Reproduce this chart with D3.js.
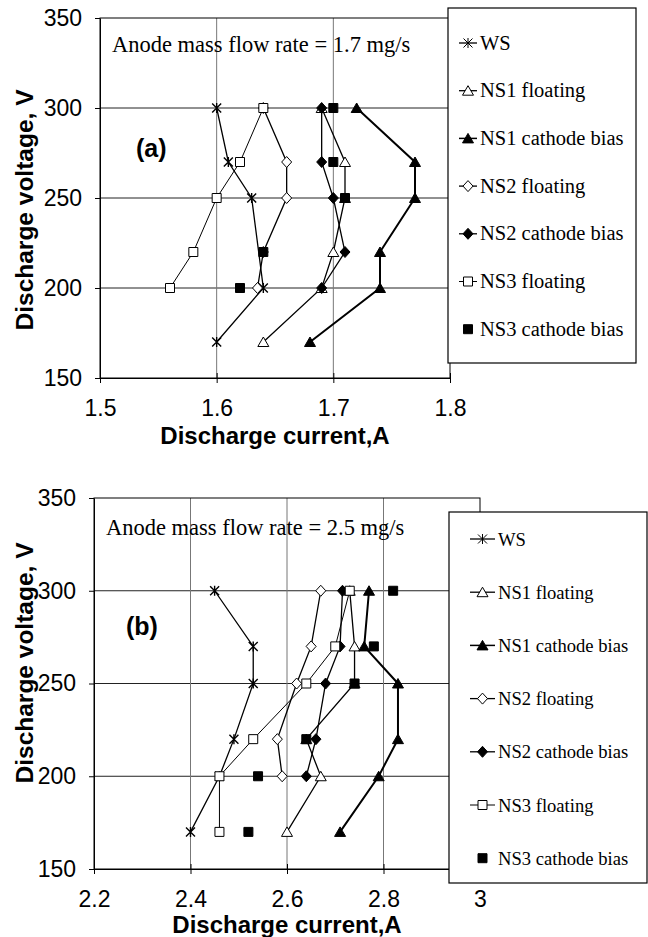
<!DOCTYPE html>
<html>
<head>
<meta charset="utf-8">
<script src="https://cdn.jsdelivr.net/npm/d3@7"></script>
<style>
  body { margin: 0; background: #fff; }
  svg { display: block; }
</style>
</head>
<body>
<div id="chart"></div>
<script>

// series names, same order in both panels
var seriesNames = ['WS', 'NS1 floating', 'NS1 cathode bias', 'NS2 floating',
                   'NS2 cathode bias', 'NS3 floating', 'NS3 cathode bias'];

// panel (a): anode mass flow rate 1.7 mg/s -- [current A, voltage V]
var aWS    = [[1.60, 300], [1.61, 270], [1.63, 250], [1.64, 200], [1.60, 170]];
var aNS1f  = [[1.69, 300], [1.71, 270], [1.71, 250], [1.70, 220], [1.69, 200], [1.64, 170]];
var aNS1c  = [[1.72, 300], [1.77, 270], [1.77, 250], [1.74, 220], [1.74, 200], [1.68, 170]];
var aNS2f  = [[1.64, 300], [1.66, 270], [1.66, 250], [1.64, 220], [1.635, 200]];
var aNS2c  = [[1.69, 300], [1.69, 270], [1.70, 250], [1.71, 220], [1.69, 200]];
var aNS3f  = [[1.64, 300], [1.62, 270], [1.60, 250], [1.58, 220], [1.56, 200]];
var aNS3c  = [[1.70, 300], [1.70, 270], [1.71, 250], [1.64, 220], [1.62, 200]];

// panel (b): anode mass flow rate 2.5 mg/s
var bWS    = [[2.45, 300], [2.53, 270], [2.53, 250], [2.49, 220], [2.46, 200], [2.40, 170]];
var bNS1f  = [[2.73, 300], [2.74, 270], [2.74, 250], [2.64, 220], [2.67, 200], [2.60, 170]];
var bNS1c  = [[2.77, 300], [2.76, 270], [2.83, 250], [2.83, 220], [2.79, 200], [2.71, 170]];
var bNS2f  = [[2.67, 300], [2.65, 270], [2.62, 250], [2.58, 220], [2.59, 200]];
var bNS2c  = [[2.715, 300], [2.71, 270], [2.68, 250], [2.66, 220], [2.64, 200]];
var bNS3f  = [[2.73, 300], [2.70, 270], [2.64, 250], [2.53, 220], [2.46, 200], [2.46, 170]];
var bNS3c  = [[2.82, 300], [2.78, 270], [2.74, 250], [2.64, 220], [2.54, 200], [2.52, 170]];

var yTicks  = [150, 200, 250, 300, 350];
var xTicksA = [1.5, 1.6, 1.7, 1.8];
var xTicksB = [2.2, 2.4, 2.6, 2.8, 3];

// marker / line look for each series (same order as seriesNames)
var seriesStyle = [
  { shape: 'star',     fill: 'none',  line: 1.3 },
  { shape: 'triangle', fill: '#fff',  line: 1.3 },
  { shape: 'triangle', fill: '#000',  line: 2 },
  { shape: 'diamond',  fill: '#fff',  line: 1.3 },
  { shape: 'diamond',  fill: '#000',  line: 1.3 },
  { shape: 'square',   fill: '#fff',  line: 1 },
  { shape: 'square',   fill: '#000',  line: 0 }
];

var sansFont = '"Liberation Sans", Arial, sans-serif';
var serifFont = '"Liberation Serif", "Times New Roman", serif';

var svg = d3.select('#chart').append('svg')
  .attr('width', 648)
  .attr('height', 937);

svg.append('rect').attr('width', 648).attr('height', 937).attr('fill', '#fff');

function markerPath(shape) {
  if (shape === 'square') return 'M-4.5,-4.5H4.5V4.5H-4.5Z';
  if (shape === 'triangle') return 'M0,-5L5.5,4.5L-5.5,4.5Z';
  if (shape === 'diamond') return 'M0,-5.5L5,0L0,5.5L-5,0Z';
  return 'M-4.5,-4.5L4.5,4.5M-4.5,4.5L4.5,-4.5M0,-5V5';
}

function drawPanel(p) {
  var x = p.x, y = p.y;
  var g = svg.append('g');
  var x0 = x.range()[0], x1 = x.range()[1];
  var yb = y.range()[0], yt = y.range()[1];

  // grid
  g.selectAll('.hgrid').data(yTicks.slice(1, -1)).enter().append('line')
    .attr('x1', x0).attr('x2', x1)
    .attr('y1', function(d) { return y(d); }).attr('y2', function(d) { return y(d); })
    .attr('stroke', '#222').attr('stroke-width', 1);
  g.selectAll('.vgrid').data(p.xTicks.slice(1, -1)).enter().append('line')
    .attr('y1', yt).attr('y2', yb)
    .attr('x1', function(d) { return x(d); }).attr('x2', function(d) { return x(d); })
    .attr('stroke', '#777').attr('stroke-width', 1);

  // plot frame
  g.append('rect')
    .attr('x', x0).attr('y', yt).attr('width', x1 - x0).attr('height', yb - yt)
    .attr('fill', 'none').attr('stroke', '#000').attr('stroke-width', 1);

  // axes
  var yAxis = g.append('g').attr('transform', 'translate(' + x0 + ',0)')
    .call(d3.axisLeft(y).tickValues(yTicks).tickSizeInner(5).tickSizeOuter(0).tickPadding(13));
  var xAxis = g.append('g').attr('transform', 'translate(0,' + yb + ')')
    .call(d3.axisBottom(x).tickValues(p.xTicks).tickSizeInner(5).tickSizeOuter(0)
      .tickPadding(17).tickFormat(function(d) { return String(d); }));
  xAxis.selectAll('.tick line').attr('y1', -5);
  [yAxis, xAxis].forEach(function(a) {
    a.select('.domain').attr('stroke', '#000');
    a.selectAll('.tick line').attr('stroke', '#000');
    a.selectAll('text').attr('font-family', sansFont).attr('font-size', 23).attr('fill', '#000');
  });

  // lines first, then markers
  var line = d3.line().x(function(d) { return x(d[0]); }).y(function(d) { return y(d[1]); });
  p.series.forEach(function(pts, i) {
    var st = seriesStyle[i];
    if (!st.line) return;
    g.append('path').datum(pts).attr('d', line)
      .attr('fill', 'none').attr('stroke', '#000').attr('stroke-width', st.line);
  });
  p.series.forEach(function(pts, i) {
    var st = seriesStyle[i];
    g.selectAll(null).data(pts).enter().append('path')
      .attr('transform', function(d) { return 'translate(' + x(d[0]) + ',' + y(d[1]) + ')'; })
      .attr('d', markerPath(st.shape))
      .attr('fill', st.fill).attr('stroke', '#000').attr('stroke-width', st.shape === 'star' ? 1.4 : 1);
  });

  // texts
  g.append('text').attr('x', x0 + 12).attr('y', p.noteY)
    .attr('font-family', serifFont).attr('font-size', 22.5).text(p.note);
  g.append('text').attr('x', p.tagX).attr('y', p.tagY)
    .attr('font-family', sansFont).attr('font-weight', 'bold').attr('font-size', 25).text(p.tag);
  g.append('text').attr('x', (x0 + x1) / 2).attr('y', p.xTitleY).attr('text-anchor', 'middle')
    .attr('font-family', sansFont).attr('font-weight', 'bold').attr('font-size', 24)
    .text('Discharge current,A');
  g.append('text').attr('transform', 'translate(33,' + p.yTitleY + ') rotate(-90)')
    .attr('text-anchor', 'middle')
    .attr('font-family', sansFont).attr('font-weight', 'bold').attr('font-size', 24.5)
    .text('Discharge voltage, V');

  // legend
  var L = p.legend;
  var lg = svg.append('g');
  lg.append('rect').attr('x', L.left).attr('y', L.top)
    .attr('width', L.right - L.left).attr('height', L.bottom - L.top)
    .attr('fill', '#fff').attr('stroke', '#000').attr('stroke-width', 1.2);
  seriesNames.forEach(function(name, i) {
    var st = seriesStyle[i];
    var cy = L.first + i * L.step;
    if (st.line) {
      lg.append('line').attr('x1', L.lineX0).attr('x2', L.lineX1).attr('y1', cy).attr('y2', cy)
        .attr('stroke', '#000').attr('stroke-width', Math.min(st.line, 1.5));
    }
    lg.append('path')
      .attr('transform', 'translate(' + (L.lineX0 + L.lineX1) / 2 + ',' + cy + ')')
      .attr('d', markerPath(st.shape))
      .attr('fill', st.fill).attr('stroke', '#000').attr('stroke-width', 1);
    lg.append('text').attr('x', L.textX).attr('y', cy + 6.5)
      .attr('font-family', serifFont).attr('font-size', L.fontSize).text(name);
  });
}

drawPanel({
  x: d3.scaleLinear().domain([1.5, 1.8]).range([100, 450]),
  y: d3.scaleLinear().domain([150, 350]).range([378, 18]),
  xTicks: xTicksA,
  series: [aWS, aNS1f, aNS1c, aNS2f, aNS2c, aNS3f, aNS3c],
  note: 'Anode mass flow rate = 1.7 mg/s', noteY: 52,
  tag: '(a)', tagX: 136, tagY: 157,
  xTitleY: 444, yTitleY: 210,
  legend: { left: 448, right: 636, top: 8, bottom: 363, first: 43, step: 47.7,
            lineX0: 459, lineX1: 477, textX: 480, fontSize: 20.5 }
});

drawPanel({
  x: d3.scaleLinear().domain([2.2, 3.0]).range([94, 480]),
  y: d3.scaleLinear().domain([150, 350]).range([869, 498]),
  xTicks: xTicksB,
  series: [bWS, bNS1f, bNS1c, bNS2f, bNS2c, bNS3f, bNS3c],
  note: 'Anode mass flow rate = 2.5 mg/s', noteY: 535,
  tag: '(b)', tagX: 126, tagY: 635,
  xTitleY: 933, yTitleY: 663,
  legend: { left: 449, right: 647, top: 512, bottom: 883, first: 539, step: 53.2,
            lineX0: 470, lineX1: 495, textX: 498, fontSize: 18.6 }
});

</script>
</body>
</html>
